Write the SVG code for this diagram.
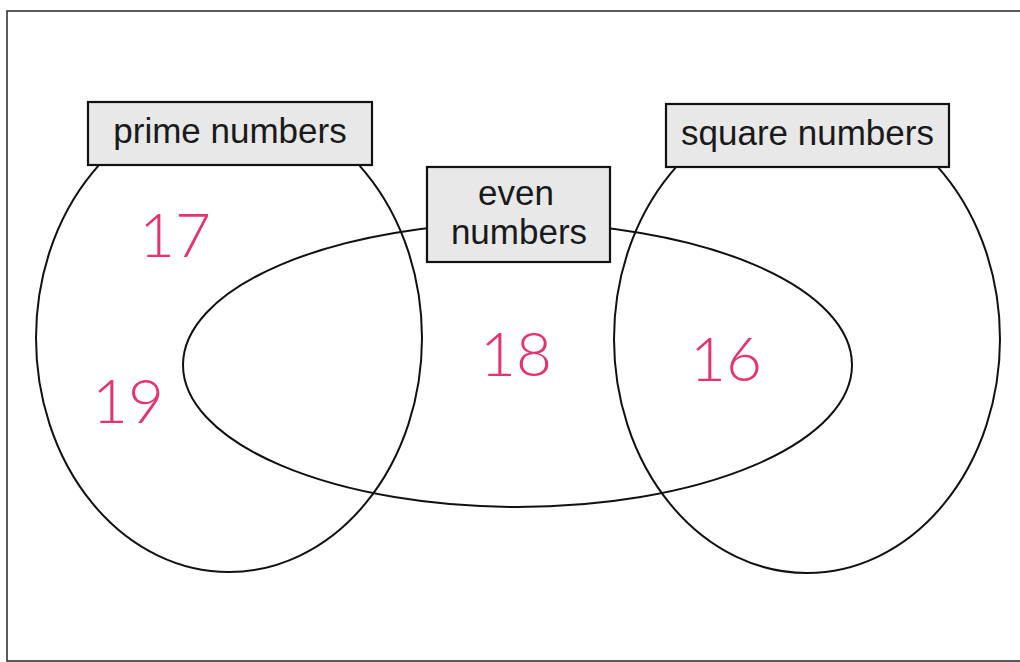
<svg xmlns="http://www.w3.org/2000/svg" width="1020" height="662" viewBox="0 0 1020 662">
<style>
.set{fill:none;stroke:#111;stroke-width:2}
.box{fill:#e8e8e8;stroke:#111;stroke-width:2.2}
.lbl{font-family:"Liberation Sans",Arial,sans-serif;font-size:35px;fill:#1a1a1a;text-anchor:middle}
.num{font-family:Lato,"Open Sans",sans-serif;font-weight:300;font-size:62px;fill:#e6336b;text-anchor:middle}
</style>
<rect x="0" y="0" width="1020" height="662" fill="#fff"/>
<rect x="7" y="11" width="1030" height="650" fill="none" stroke="#333" stroke-width="1.6"/>
<g id="connectors"></g>
<g id="prime">
<ellipse class="set" cx="229" cy="338" rx="193" ry="234"/>
</g>
<g id="even">
<ellipse class="set" cx="517.5" cy="365" rx="334.5" ry="142"/>
</g>
<g id="square">
<ellipse class="set" cx="807" cy="339" rx="193" ry="234"/>
</g>
<g id="prime-label">
<rect class="box" x="88" y="102" width="284" height="63"/>
<text class="lbl" x="230" y="143">prime numbers</text>
</g>
<g id="square-label">
<rect class="box" x="666" y="104" width="283" height="63"/>
<text class="lbl" x="807.5" y="145">square numbers</text>
</g>
<g id="even-label">
<rect class="box" x="427" y="167" width="183" height="95"/>
<text class="lbl" x="516" y="205">even</text>
<text class="lbl" x="519" y="244">numbers</text>
</g>
<g id="values">
<text class="num" x="175" y="257">17</text>
<text class="num" x="128" y="423">19</text>
<text class="num" x="516" y="376">18</text>
<text class="num" x="726" y="381">16</text>
</g>
</svg>
